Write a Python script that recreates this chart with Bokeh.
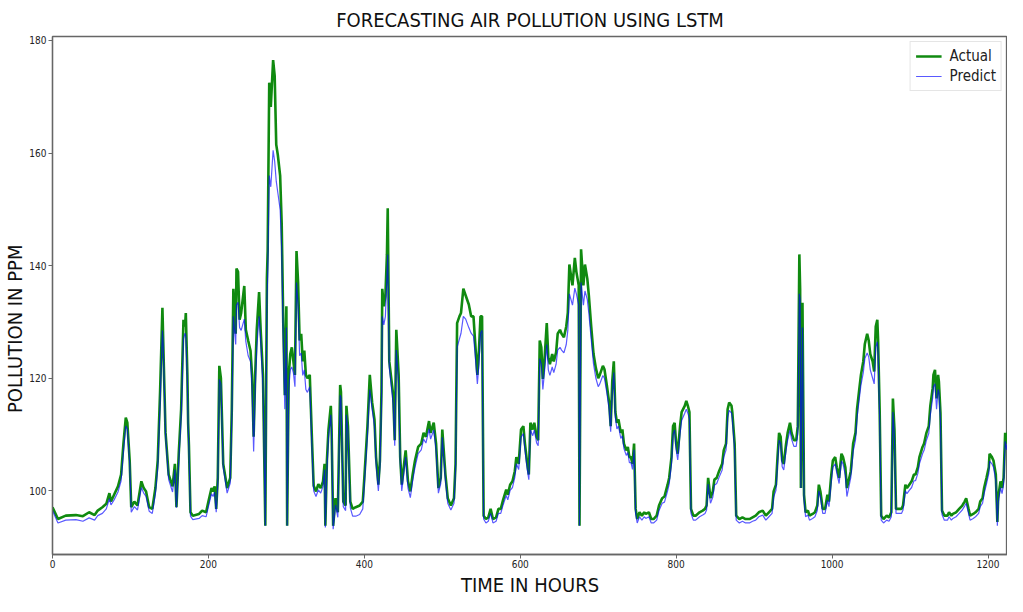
from bokeh.plotting import figure
from bokeh.models import Range1d, FixedTicker, Legend, LegendItem, Title
from bokeh.embed import file_html
from bokeh.resources import INLINE

# ---- data ----
hours = [
    0, 7, 17, 30, 39, 47, 54, 58, 64, 69,
    73, 75, 79, 84, 88, 91, 94, 96, 99, 101,
    105, 109, 114, 117, 120, 124, 128, 132, 135, 138,
    141, 142, 145, 149, 154, 157, 159, 162, 165, 168,
    170, 171, 173, 174, 175, 177, 180, 188, 192, 197,
    200, 204, 206, 208, 210, 212, 214, 216, 219, 224,
    228, 230, 232, 235, 236, 238, 240, 242, 246, 248,
    251, 254, 256, 258, 260, 262, 265, 267, 270, 271,
    273, 275, 276, 278, 280, 283, 285, 287, 289, 292,
    294, 296, 298, 300, 301, 303, 305, 307, 309, 311,
    313, 315, 317, 319, 321, 323, 325, 327, 330, 333,
    335, 338, 341, 344, 347, 349, 350, 352, 354, 357,
    358, 360, 363, 366, 369, 370, 373, 376, 377, 379,
    382, 385, 389, 394, 398, 400, 404, 407, 410, 413,
    415, 418, 420, 422, 423, 425, 427, 429, 430, 432,
    435, 437, 439, 441, 444, 446, 448, 451, 453, 456,
    459, 462, 465, 469, 473, 476, 479, 483, 485, 489,
    492, 495, 498, 500, 504, 507, 511, 515, 517, 519,
    522, 524, 527, 530, 534, 537, 540, 542, 545, 547,
    549, 551, 553, 556, 559, 562, 565, 569, 572, 575,
    578, 582, 584, 587, 590, 593, 595, 598, 601, 604,
    606, 609, 611, 613, 616, 618, 621, 623, 625, 627,
    629, 631, 634, 636, 638, 641, 643, 646, 648, 651,
    653, 656, 659, 661, 663, 665, 667, 670, 672, 675,
    676, 678, 681, 683, 686, 688, 691, 694, 697, 700,
    702, 706, 708, 711, 714, 716, 718, 720, 722, 724,
    726, 729, 731, 733, 736, 738, 740, 742, 744, 746,
    748, 750, 753, 756, 759, 761, 765, 768, 771, 775,
    778, 782, 785, 789, 791, 794, 796, 798, 800, 802,
    805, 807, 811, 813, 815, 817, 819, 822, 825, 830,
    834, 837, 839, 841, 842, 844, 847, 849, 852, 855,
    859, 861, 864, 866, 868, 871, 872, 875, 877, 881,
    885, 889, 894, 898, 902, 906, 911, 915, 919, 923,
    925, 928, 930, 932, 934, 936, 938, 941, 943, 946,
    948, 951, 954, 956, 958, 959, 960, 962, 964, 966,
    969, 971, 975, 978, 981, 983, 985, 988, 991, 994,
    996, 999, 1001, 1004, 1006, 1009, 1012, 1014, 1017, 1019,
    1022, 1024, 1027, 1030, 1032, 1035, 1037, 1040, 1042, 1045,
    1047, 1049, 1052, 1054, 1056, 1058, 1059, 1061, 1063, 1066,
    1070, 1073, 1076, 1078, 1080, 1082, 1085, 1089, 1091, 1094,
    1096, 1099, 1102, 1105, 1107, 1110, 1112, 1116, 1118, 1121,
    1124, 1126, 1129, 1130, 1132, 1134, 1136, 1137, 1139, 1141,
    1144, 1148, 1150, 1153, 1155, 1159, 1163, 1167, 1170, 1172,
    1175, 1177, 1181, 1184, 1188, 1190, 1193, 1195, 1198, 1201,
    1202, 1205, 1207, 1210, 1212, 1213, 1216, 1218, 1220, 1222,
    1224, 1226, 1230, 1233, 1236, 1240, 1243,
]

actual = [
    97.1, 95.0, 95.6, 95.7, 95.5, 96.2, 95.7, 96.5, 97.1, 97.7,
    99.6, 98.1, 99.3, 100.8, 102.9, 108.4, 113.0, 112.1, 105.4, 97.1,
    98.1, 97.4, 101.7, 100.5, 99.9, 97.1, 96.8, 100.5, 105.4, 117.6,
    132.5, 126.7, 110.3, 102.9, 100.8, 104.8, 97.1, 106.8, 114.5, 130.4,
    129.2, 131.6, 120.6, 112.0, 108.0, 96.2, 95.6, 95.9, 96.5, 96.2,
    98.1, 100.5, 99.9, 100.8, 96.8, 102.3, 122.2, 120.0, 104.8, 100.5,
    102.3, 114.5, 135.9, 127.9, 139.5, 138.9, 130.4, 131.6, 136.4, 128.6,
    126.7, 124.9, 120.6, 109.6, 120.6, 128.6, 135.3, 128.6, 120.6, 111.5,
    93.8, 137.7, 142.6, 172.5, 168.2, 176.5, 173.7, 161.5, 159.7, 156.0,
    147.5, 129.8, 117.0, 132.8, 93.8, 120.6, 124.3, 125.5, 123.0, 120.6,
    142.6, 137.1, 126.7, 127.9, 123.0, 124.9, 120.6, 120.0, 120.6, 108.4,
    100.9, 99.9, 101.2, 100.5, 101.7, 104.8, 93.8, 105.4, 110.9, 115.1,
    111.0, 93.8, 98.7, 96.2, 118.8, 117.6, 98.1, 97.4, 115.1, 111.5,
    98.1, 96.8, 97.1, 97.4, 98.1, 102.3, 111.5, 120.6, 115.7, 112.7,
    106.0, 101.1, 105.4, 117.6, 135.9, 132.8, 134.6, 142.0, 150.2, 123.0,
    119.4, 117.0, 109.0, 128.6, 120.6, 106.0, 101.1, 104.8, 107.2, 101.7,
    99.9, 102.9, 105.4, 107.8, 108.4, 110.3, 109.6, 112.4, 110.3, 112.1,
    108.4, 100.5, 102.3, 110.9, 102.9, 98.7, 97.4, 98.7, 104.8, 129.8,
    131.0, 131.6, 135.9, 134.7, 133.1, 131.0, 131.0, 126.7, 120.6, 124.9,
    131.0, 131.0, 95.6, 95.0, 95.3, 96.8, 95.0, 95.3, 96.8, 96.8,
    98.4, 100.2, 99.3, 101.1, 101.7, 103.5, 106.0, 104.8, 110.9, 111.5,
    108.4, 104.8, 102.9, 112.1, 110.9, 112.1, 109.6, 109.0, 126.7, 125.5,
    119.9, 123.0, 129.8, 123.7, 122.5, 124.3, 123.0, 124.6, 127.9, 128.6,
    127.9, 127.3, 129.2, 131.6, 140.2, 138.3, 136.5, 141.4, 138.9, 136.5,
    93.8, 142.9, 136.5, 140.2, 137.7, 134.7, 129.2, 124.3, 121.8, 120.0,
    120.6, 122.2, 121.6, 118.8, 115.7, 111.5, 119.4, 123.0, 114.0, 112.1,
    112.7, 110.3, 110.9, 108.4, 107.2, 107.8, 106.0, 106.0, 104.8, 108.4,
    96.8, 95.0, 96.2, 95.6, 96.2, 95.9, 96.2, 95.0, 95.0, 95.6,
    97.4, 98.7, 99.0, 101.1, 102.3, 106.0, 111.5, 112.1, 108.4, 106.6,
    111.5, 114.0, 115.1, 116.0, 115.1, 114.0, 96.8, 95.6, 95.6, 96.2,
    96.5, 96.8, 97.4, 102.3, 101.1, 98.7, 99.9, 102.0, 102.3, 103.5,
    104.8, 107.2, 108.4, 114.5, 115.7, 115.1, 114.0, 108.4, 95.6, 95.0,
    95.3, 95.0, 95.0, 95.3, 95.6, 96.2, 96.5, 95.6, 96.2, 96.8,
    99.9, 101.1, 106.0, 110.3, 109.6, 105.4, 104.8, 108.4, 110.3, 112.1,
    110.3, 109.0, 109.0, 111.5, 142.0, 135.9, 100.5, 133.4, 99.3, 96.2,
    96.5, 95.6, 95.9, 96.2, 97.4, 101.1, 99.9, 96.8, 96.8, 99.3,
    98.1, 102.9, 105.4, 106.0, 104.2, 102.3, 106.6, 106.0, 104.2, 100.5,
    102.3, 103.5, 108.4, 110.3, 114.5, 118.2, 120.6, 123.0, 126.1, 127.9,
    126.7, 124.3, 123.0, 121.2, 129.2, 130.4, 126.7, 114.5, 95.6, 95.0,
    95.6, 95.3, 96.2, 116.4, 110.9, 96.8, 96.8, 96.8, 97.4, 101.1,
    100.5, 101.1, 101.7, 102.9, 102.9, 104.2, 106.0, 107.8, 108.4, 110.3,
    111.5, 115.1, 118.2, 120.6, 121.5, 116.4, 120.6, 119.4, 113.9, 96.5,
    95.6, 95.6, 96.2, 95.6, 95.9, 96.2, 96.8, 97.4, 98.1, 98.7,
    96.8, 95.6, 95.9, 96.2, 96.8, 98.1, 98.7, 100.5, 102.3, 104.2,
    106.6, 106.0, 105.4, 102.9, 94.5, 98.7, 101.7, 100.5, 102.3, 110.3,
    108.4, 110.9, 112.7, 114.5, 116.4, 118.8, 120.6,
]

predict = [
    96.5, 94.3, 94.8, 94.9, 94.6, 95.2, 94.8, 95.6, 96.0, 96.8,
    98.6, 97.5, 98.4, 99.8, 101.8, 107.0, 111.5, 111.0, 105.0, 96.2,
    97.2, 96.6, 100.6, 99.6, 99.0, 96.4, 96.0, 99.5, 104.2, 115.5,
    128.5, 126.0, 110.0, 102.0, 99.8, 103.8, 97.0, 105.5, 113.0, 127.0,
    128.0, 127.5, 119.5, 111.5, 107.5, 95.5, 94.9, 95.1, 95.6, 95.4,
    97.2, 99.5, 99.0, 99.8, 96.2, 101.2, 119.8, 119.0, 104.2, 99.6,
    101.4, 113.0, 131.0, 126.0, 133.0, 133.5, 129.0, 128.5, 130.5, 126.5,
    124.0, 123.0, 118.5, 107.0, 118.0, 125.5, 131.0, 127.0, 118.5, 110.5,
    93.8, 134.0, 138.0, 156.0, 154.0, 160.5, 158.5, 155.0, 153.0, 150.0,
    143.0, 127.0, 114.5, 129.0, 93.8, 118.0, 121.5, 122.0, 121.0, 118.5,
    137.0, 133.0, 124.0, 124.5, 120.5, 121.5, 118.0, 117.5, 118.5, 107.0,
    100.0, 99.0, 100.2, 99.6, 100.8, 103.8, 93.5, 104.0, 109.5, 113.5,
    110.0, 93.2, 97.5, 95.3, 117.0, 116.5, 97.2, 96.5, 113.5, 110.5,
    97.0, 95.5, 95.5, 95.8, 96.8, 101.2, 110.0, 118.0, 114.5, 111.5,
    105.0, 100.0, 104.2, 115.5, 131.0, 129.5, 131.0, 138.0, 142.0, 122.0,
    118.0, 115.5, 108.0, 125.0, 119.0, 105.0, 100.0, 103.5, 106.0, 100.5,
    98.8, 101.8, 104.2, 106.6, 107.3, 109.2, 108.5, 111.0, 109.2, 110.8,
    107.3, 99.6, 101.3, 109.5, 102.0, 97.8, 96.6, 97.8, 103.8, 125.5,
    127.0, 128.0, 131.0, 130.5, 129.0, 128.0, 127.5, 124.5, 119.0, 122.5,
    128.0, 128.5, 95.0, 94.3, 94.6, 96.0, 94.3, 94.6, 96.0, 96.0,
    97.5, 99.2, 98.4, 100.1, 100.6, 102.4, 104.8, 103.8, 109.5, 110.2,
    107.3, 103.8, 102.0, 110.8, 109.8, 110.8, 108.5, 108.0, 123.5, 122.5,
    118.0, 121.0, 126.0, 121.5, 120.5, 122.0, 121.0, 122.5, 125.0, 125.5,
    125.0, 124.5, 126.0, 128.5, 135.0, 134.0, 133.0, 136.0, 135.0, 133.0,
    93.8, 137.0, 133.0, 135.5, 134.0, 131.5, 127.0, 122.5, 120.0, 118.5,
    119.0, 120.5, 120.0, 117.5, 114.5, 110.5, 117.5, 121.0, 113.0, 111.0,
    111.5, 109.3, 109.8, 107.5, 106.3, 106.8, 105.0, 105.0, 103.8, 107.3,
    96.0, 94.3, 95.4, 94.8, 95.4, 95.1, 95.4, 94.3, 94.3, 94.8,
    96.5, 97.8, 98.0, 100.0, 101.2, 104.8, 110.0, 110.8, 107.3, 105.5,
    110.2, 112.5, 113.8, 114.5, 113.8, 112.8, 96.0, 94.8, 94.8, 95.4,
    95.7, 96.0, 96.6, 101.2, 100.1, 97.8, 98.9, 101.0, 101.3, 102.4,
    103.7, 106.0, 107.3, 113.0, 114.3, 113.8, 112.8, 107.3, 94.8, 94.3,
    94.6, 94.3, 94.3, 94.6, 94.8, 95.4, 95.7, 94.8, 95.4, 96.0,
    98.9, 100.1, 104.8, 109.0, 108.5, 104.3, 103.7, 107.3, 109.0, 110.8,
    109.2, 107.9, 107.9, 110.2, 135.0, 134.0, 100.5, 129.0, 98.5, 95.4,
    95.7, 94.8, 95.1, 95.4, 96.5, 100.0, 98.9, 96.0, 96.0, 98.3,
    97.2, 101.8, 104.2, 104.8, 103.2, 101.3, 105.3, 104.8, 102.8, 99.0,
    101.0, 102.4, 107.0, 109.0, 113.0, 116.5, 118.8, 121.0, 123.5, 124.5,
    123.8, 121.5, 120.0, 119.0, 125.5, 126.5, 124.5, 113.0, 94.8, 94.3,
    94.8, 94.6, 95.4, 114.0, 109.5, 96.0, 96.0, 96.0, 96.6, 100.0,
    99.5, 100.1, 100.6, 101.8, 101.8, 103.1, 104.8, 106.6, 107.2, 109.0,
    110.2, 113.5, 116.5, 118.5, 119.0, 114.5, 118.0, 117.5, 112.5, 95.8,
    94.8, 94.8, 95.4, 94.8, 95.1, 95.4, 96.0, 96.6, 97.3, 97.8,
    96.0, 94.8, 95.1, 95.4, 96.0, 97.2, 97.8, 99.5, 101.2, 103.1,
    105.3, 104.8, 104.2, 101.8, 93.8, 97.8, 100.6, 99.5, 101.2, 108.8,
    107.3, 109.7, 111.5, 113.2, 115.0, 117.5, 119.3,
]

x_ticks = [0, 200, 400, 600, 800, 1000, 1200]
y_ticks = [100, 120, 140, 160, 180]
series_names = ["Actual", "Predict"]
x_title = "TIME IN HOURS"
y_title = "POLLUTION IN PPM"
chart_title = "FORECASTING AIR POLLUTION USING LSTM"

assert len(hours) == len(actual) == len(predict), (len(hours), len(actual), len(predict))

FONT = "'Liberation Sans Narrow', 'DejaVu Sans Condensed', 'DejaVu Sans', sans-serif"

p = figure(width=1007, height=596, output_backend="svg", toolbar_location=None,
           x_range=Range1d(0, 1225), y_range=Range1d(88.7, 180.7),
           min_border=0, min_border_left=45, min_border_right=0, min_border_top=0, min_border_bottom=0,
           title=chart_title)

p.title.align = "center"
p.title.text_font = FONT
p.title.text_font_size = "20px"
p.title.text_font_style = "normal"
p.title.text_color = "#111111"
p.title.standoff = 10
p.title.offset = 0

p.xgrid.visible = False
p.ygrid.visible = False
p.outline_line_color = "#666666"
p.outline_line_width = 1.3
p.background_fill_color = "white"
p.border_fill_color = "white"

for ax in (p.xaxis[0], p.yaxis[0]):
    ax.axis_line_color = "#666666"
    ax.axis_line_width = 1.3
    ax.major_tick_line_color = "#666666"
    ax.major_tick_out = 4
    ax.major_tick_in = 0
    ax.minor_tick_line_color = None
    ax.major_label_text_font = FONT
    ax.major_label_text_font_size = "10px"
    ax.major_label_text_color = "#222222"
    ax.major_label_standoff = 2

p.xaxis.major_label_standoff = 1
p.xaxis.ticker = FixedTicker(ticks=x_ticks)
p.yaxis.ticker = FixedTicker(ticks=y_ticks)

# axis titles as side titles (keeps the panels compact like the reference)
xtitle = Title(text=x_title, align="center", standoff=0,
               text_font=FONT, text_font_size="20px", text_font_style="normal",
               text_color="#111111")
p.add_layout(xtitle, "below")

ytitle = Title(text=y_title, align="right", offset=208, standoff=0,
               text_font=FONT, text_font_size="20px", text_font_style="normal",
               text_color="#111111")
p.add_layout(ytitle, "left")

r_act = p.line(hours, actual, line_color="#108a10", line_width=2.6)
r_pred = p.line(hours, predict, line_color="#0000ff", line_alpha=0.65, line_width=1.2)

legend = Legend(items=[LegendItem(label=series_names[0], renderers=[r_act]),
                       LegendItem(label=series_names[1], renderers=[r_pred])],
                location="top_right")
legend.label_text_font = FONT
legend.label_text_font_size = "15px"
legend.label_text_color = "#222222"
legend.glyph_width = 26
legend.glyph_height = 18
legend.label_standoff = 8
legend.label_height = 18
legend.spacing = 2
legend.padding = 5
legend.margin = 5
legend.border_line_color = "#cccccc"
legend.border_line_width = 1
legend.background_fill_alpha = 0.9
p.add_layout(legend)

open("out.html", "w").write(file_html(p, INLINE))
